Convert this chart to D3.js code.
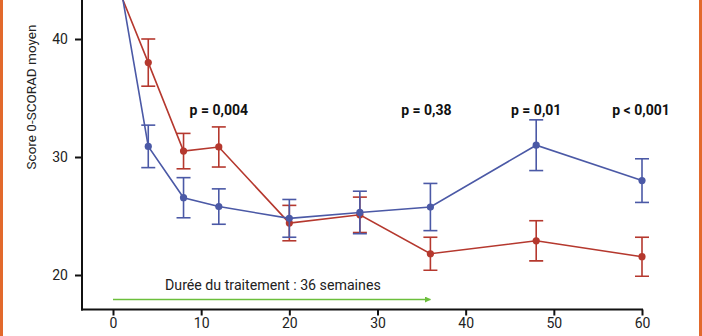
<!DOCTYPE html>
<html lang="fr">
<head>
<meta charset="utf-8">
<script src="https://cdn.jsdelivr.net/npm/d3@7"></script>
<style>
  html, body { margin: 0; padding: 0; background: #fff; }
  svg { display: block; font-family: Roboto, "Noto Sans", sans-serif; }
</style>
</head>
<body>
<svg id="chart" width="702" height="336"></svg>
<script>
// Semaines de suivi
const weeks = [0, 4, 8, 12, 20, 28, 36, 48, 60];

// Groupe rouge : score moyen et demi-intervalle
const redMean = [45.4, 38.0, 30.5, 30.85, 24.4, 25.1, 21.8, 22.9, 21.55];
const redErr  = [0, 2.0, 1.5, 1.7, 1.5, 1.5, 1.4, 1.7, 1.65];

// Groupe bleu : score moyen et demi-intervalle
const blueMean = [48.2, 30.9, 26.55, 25.8, 24.8, 25.3, 25.76, 31.0, 28.0];
const blueErr  = [0, 1.8, 1.7, 1.5, 1.6, 1.8, 2.0, 2.15, 1.85];

// Graduations
const xTicks = [0, 10, 20, 30, 40, 50, 60];
const yTicks = [20, 30, 40];

// Valeurs de p par semaine
const pWeeks  = [12, 36, 48, 60];
const pLabels = ["p = 0,004", "p = 0,38", "p = 0,01", "p < 0,001"];

const treatmentEnd = 36;
const treatmentLabel = "Durée du traitement : 36 semaines";
const yTitle = "Score 0-SCORAD moyen";

const svg = d3.select("#chart");
const W = 702, H = 336;

const axisX = 82, axisY = 309.5;
const x = d3.scaleLinear().domain([0, 60]).range([113, 642]);
const y = d3.scaleLinear().domain([20, 40]).range([275, 39]);

const RED = "#b5382e", BLUE = "#4b59a6", GREEN = "#6cbf3c", ORANGE = "#e2692c";

// Cadre orange latéral
svg.append("rect").attr("x", 0).attr("y", 0).attr("width", 3).attr("height", H).attr("fill", ORANGE);
svg.append("rect").attr("x", 699).attr("y", 0).attr("width", 3).attr("height", H).attr("fill", ORANGE);

// Zone de tracé
svg.append("clipPath").attr("id", "plot")
  .append("rect").attr("x", axisX).attr("y", 0).attr("width", 620).attr("height", axisY);

// Axe Y
const gy = svg.append("g").attr("transform", `translate(${axisX},0)`)
  .call(d3.axisLeft(y).tickValues(yTicks).tickSize(7).tickPadding(7).tickFormat(d3.format("d")));
gy.select(".domain").remove();
gy.selectAll(".tick line").attr("stroke", "#111").attr("stroke-width", 2);
gy.selectAll(".tick text").attr("font-size", 14).attr("fill", "#222")
  .attr("font-family", "Roboto, sans-serif");

// Axe X
const gx = svg.append("g").attr("transform", `translate(0,${axisY})`)
  .call(d3.axisBottom(x).tickValues(xTicks).tickSize(6).tickPadding(3).tickFormat(d3.format("d")));
gx.select(".domain").remove();
gx.selectAll(".tick line").attr("stroke", "#111").attr("stroke-width", 2);
gx.selectAll(".tick text").attr("font-size", 14).attr("fill", "#222")
  .attr("font-family", "Roboto, sans-serif");

// Lignes d'axes
svg.append("line").attr("x1", axisX).attr("x2", axisX).attr("y1", 0).attr("y2", axisY + 1)
  .attr("stroke", "#111").attr("stroke-width", 2);
svg.append("line").attr("x1", axisX - 1).attr("x2", x(60) + 1).attr("y1", axisY).attr("y2", axisY)
  .attr("stroke", "#111").attr("stroke-width", 2);

// Titre de l'axe Y
svg.append("text")
  .attr("transform", `translate(36,${97}) rotate(-90)`)
  .attr("text-anchor", "middle")
  .attr("font-size", 13.5)
  .attr("fill", "#222")
  .text(yTitle);

// Séries
function drawSeries(means, errs, color) {
  const data = weeks.map((w, i) => ({ w, m: means[i], e: errs[i] }));
  const g = svg.append("g").attr("clip-path", "url(#plot)");
  const line = d3.line().x(d => x(d.w)).y(d => y(d.m));
  g.append("path").datum(data).attr("d", line)
    .attr("fill", "none").attr("stroke", color).attr("stroke-width", 1.6);
  const eb = g.selectAll(".eb").data(data.filter(d => d.e > 0)).enter().append("g");
  eb.append("line").attr("x1", d => x(d.w)).attr("x2", d => x(d.w))
    .attr("y1", d => y(d.m + d.e)).attr("y2", d => y(d.m - d.e))
    .attr("stroke", color).attr("stroke-width", 1.6);
  [1, -1].forEach(s => {
    eb.append("line").attr("x1", d => x(d.w) - 7).attr("x2", d => x(d.w) + 7)
      .attr("y1", d => y(d.m + s * d.e)).attr("y2", d => y(d.m + s * d.e))
      .attr("stroke", color).attr("stroke-width", 1.6);
  });
  g.selectAll(".pt").data(data).enter().append("circle")
    .attr("cx", d => x(d.w)).attr("cy", d => y(d.m)).attr("r", 3.6).attr("fill", color);
}
drawSeries(redMean, redErr, RED);
drawSeries(blueMean, blueErr, BLUE);

// Valeurs de p
svg.selectAll(".pval").data(pWeeks).enter().append("text")
  .attr("x", (d, i) => x(d) + [0, -4, 0, -1][i])
  .attr("y", 115)
  .attr("text-anchor", "middle")
  .attr("font-size", 14)
  .attr("font-weight", "bold")
  .attr("fill", "#111")
  .text((d, i) => pLabels[i]);

// Durée du traitement
const arrowY = 299.5;
svg.append("defs").append("marker")
  .attr("id", "arrow").attr("viewBox", "0 0 10 10").attr("refX", 9).attr("refY", 5)
  .attr("markerWidth", 6).attr("markerHeight", 6).attr("markerUnits", "userSpaceOnUse")
  .attr("orient", "auto")
  .append("path").attr("d", "M0,0 L10,5 L0,10 Z").attr("fill", GREEN);
svg.append("line").attr("x1", x(0)).attr("x2", x(treatmentEnd)).attr("y1", arrowY).attr("y2", arrowY)
  .attr("stroke", GREEN).attr("stroke-width", 1.6).attr("marker-end", "url(#arrow)");
svg.append("text").attr("x", 165).attr("y", 290)
  .attr("font-size", 14.2).attr("fill", "#222")
  .text(treatmentLabel);
</script>
</body>
</html>
